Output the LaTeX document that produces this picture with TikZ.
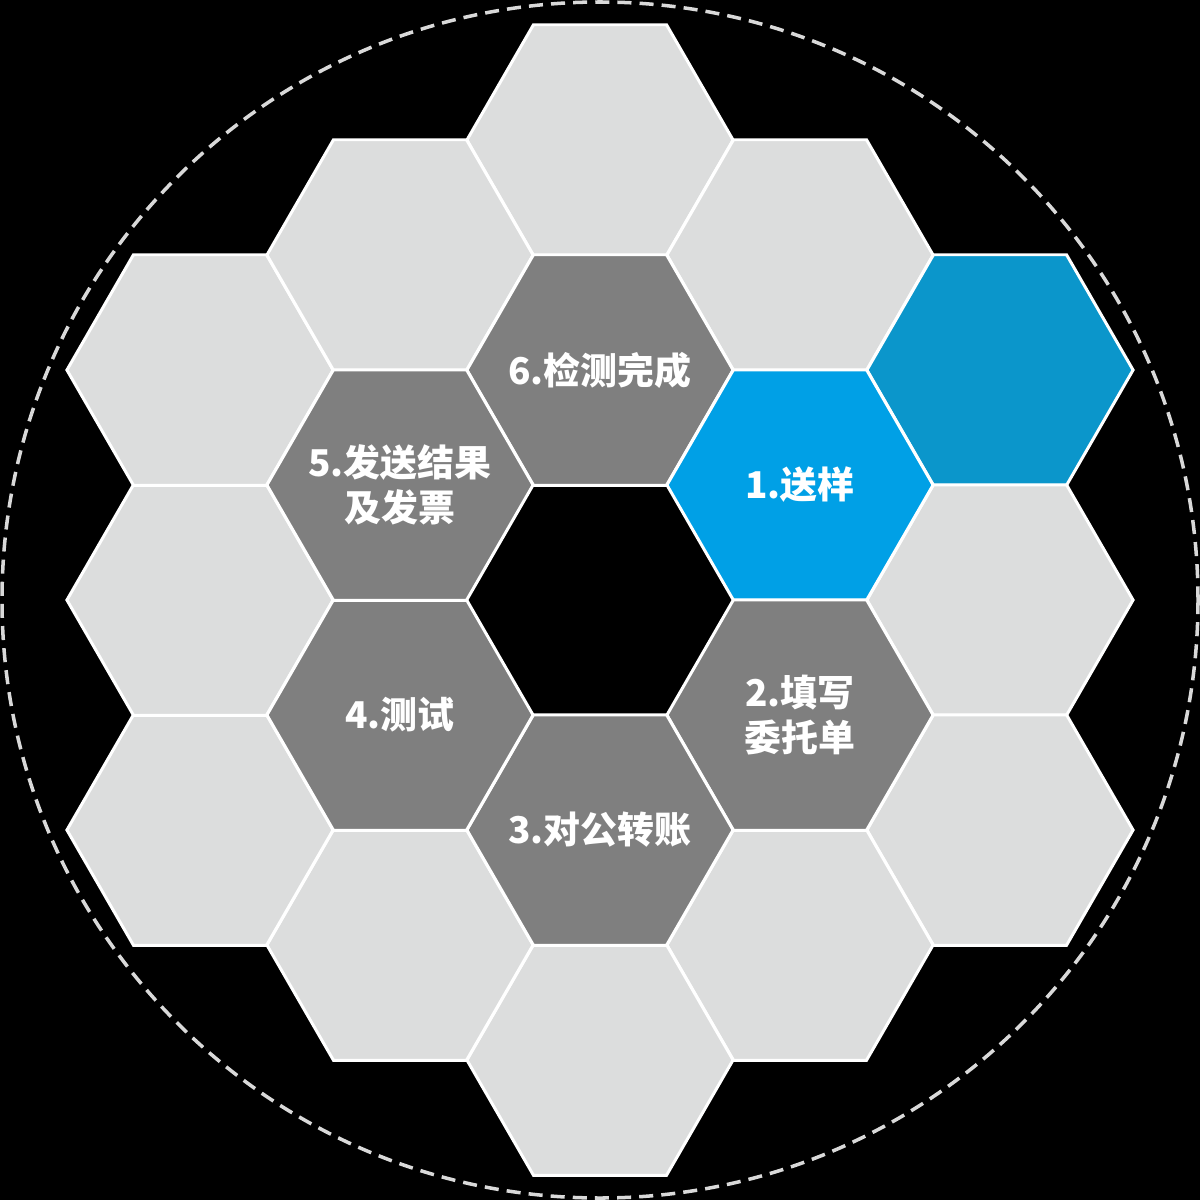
\documentclass[tikz,border=0pt]{standalone}
\usepackage{fontspec}
\newfontfamily\cjk{Noto Sans CJK SC}
\usetikzlibrary{shapes.geometric}
\definecolor{lightg}{HTML}{DCDDDD}
\definecolor{darkg}{HTML}{7F7F7F}
\definecolor{bluea}{HTML}{00A0E6}
\definecolor{blueb}{HTML}{0B96CB}
\definecolor{dashc}{HTML}{D9D9D9}
\begin{document}
\begin{tikzpicture}[x=0.01cm,y=-0.01cm,
  hexa/.style={regular polygon, regular polygon sides=6, minimum size=2.66cm,
    inner sep=0pt, outer sep=0pt, draw=white, line width=0.85pt},
  lighthex/.style={hexa, fill=lightg},
  darkhex/.style={hexa, fill=darkg},
  bluehex/.style={hexa, fill=bluea},
  deephex/.style={hexa, fill=blueb},
  steptext/.style={text=white, inner sep=0pt, align=center,
    font=\cjk\bfseries\fontsize{10.5}{12.8}\selectfont},
  dashcircle/.style={draw=dashc, line width=1pt, dash pattern=on 4pt off 2.3pt}]
\fill[black] (0,0) rectangle (1200,1200);
\useasboundingbox (0,0) rectangle (1200,1200);
% outer ring
\node[lighthex] (o1) at (600,140) {};
\node[lighthex] (o2) at (800,255) {};
\node[deephex]  (o3) at (1000,370) {};
\node[lighthex] (o4) at (1000,600) {};
\node[lighthex] (o5) at (1000,830) {};
\node[lighthex] (o6) at (800,945) {};
\node[lighthex] (o7) at (600,1060) {};
\node[lighthex] (o8) at (400,945) {};
\node[lighthex] (o9) at (200,830) {};
\node[lighthex] (o10) at (200,600) {};
\node[lighthex] (o11) at (200,370) {};
\node[lighthex] (o12) at (400,255) {};
% inner ring
\node[darkhex] (s6) at (600,370) {};
\node[bluehex] (s1) at (800,485) {};
\node[darkhex] (s2) at (800,715) {};
\node[darkhex] (s3) at (600,830) {};
\node[darkhex] (s4) at (400,715) {};
\node[darkhex] (s5) at (400,485) {};
\node[steptext] (t6) at (s6) {6.检测完成};
\node[steptext] (t1) at (s1) {1.送样};
\node[steptext] (t2) at (s2) {2.填写\\委托单};
\node[steptext] (t3) at (s3) {3.对公转账};
\node[steptext] (t4) at (s4) {4.测试};
\node[steptext] (t5) at (s5) {5.发送结果\\及发票};
\draw[dashcircle] (600,600) circle[radius=598];
\end{tikzpicture}
\end{document}
